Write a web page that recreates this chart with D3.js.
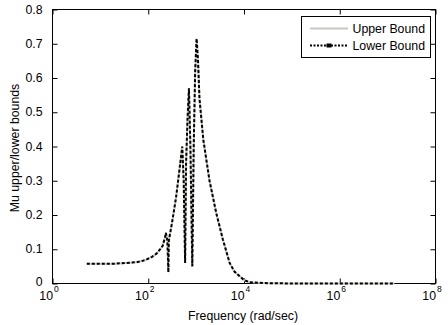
<!DOCTYPE html>
<html><head><meta charset="utf-8">
<script src="https://cdn.jsdelivr.net/npm/d3@7/dist/d3.min.js"></script>
<style>
body{margin:0;background:#fff;}
svg text{font-family:"Liberation Sans",Arial,sans-serif;}
</style></head>
<body><svg id="c" width="448" height="325"></svg>
<script>
const freq = [5.2,10,20,35,56,76,95,120,148,178,200,224,234,251,263,269,316,380,447,513,550,589,617,661,708,759,832,891,955,1023,1096,1175,1413,1905,2630,3630,5012,6310,8128,10000,12882,19953,31623,100000,1e6,1.38e7];
const lower = [0.058,0.058,0.058,0.060,0.062,0.066,0.071,0.078,0.087,0.100,0.110,0.135,0.148,0.125,0.033,0.125,0.180,0.250,0.330,0.400,0.300,0.060,0.350,0.480,0.570,0.400,0.050,0.400,0.620,0.715,0.650,0.540,0.420,0.300,0.206,0.128,0.060,0.035,0.021,0.010,0.004,0.002,0.001,0.0,0.0,0.0];
const upper = lower.slice();
const xTicks = [1,1e2,1e4,1e6,1e8];
const xTickExp = ["0","2","4","6","8"];
const yTicks = [0,0.1,0.2,0.3,0.4,0.5,0.6,0.7,0.8];
const seriesNames = ["Upper Bound","Lower Bound"];

const svg = d3.select("#c");
const L=52.5,R=435.5,T=9.5,B=283.5;
const x = d3.scaleLog().domain([1,1e8]).range([L,R]);
const y = d3.scaleLinear().domain([0,0.8]).range([B,T]);
const fs = 12.3;

svg.append("rect").attr("x",L).attr("y",T).attr("width",R-L).attr("height",B-T)
  .attr("fill","none").attr("stroke","#000").attr("stroke-width",1);

function styleAxis(g){ g.select(".domain").remove(); g.selectAll(".tick line").attr("stroke","#000"); }

const yl = svg.append("g").attr("transform",`translate(${L},0)`)
  .call(d3.axisLeft(y).tickValues(yTicks).tickSizeInner(-5).tickSizeOuter(0).tickPadding(10).tickFormat(d3.format("~g")));
styleAxis(yl);
yl.selectAll(".tick text").attr("font-size",fs).attr("fill","#000").attr("font-family","Liberation Sans, Arial, sans-serif")
  .attr("dy",d=>d===0?"0.18em":"0.3em");
const yr = svg.append("g").attr("transform",`translate(${R},0)`)
  .call(d3.axisRight(y).tickValues(yTicks).tickSizeInner(-5).tickSizeOuter(0).tickFormat(""));
styleAxis(yr);
const xb = svg.append("g").attr("transform",`translate(0,${B})`)
  .call(d3.axisBottom(x).tickValues(xTicks).tickSizeInner(-5).tickSizeOuter(0).tickFormat(""));
styleAxis(xb);
const xt = svg.append("g").attr("transform",`translate(0,${T})`)
  .call(d3.axisTop(x).tickValues(xTicks).tickSizeInner(-5).tickSizeOuter(0).tickFormat(""));
styleAxis(xt);
xTicks.forEach((t,i)=>{
  const g = svg.append("g");
  g.append("text").attr("x",x(t)+0.5).attr("y",299.5).attr("text-anchor","end")
    .attr("font-size",fs).text("10");
  g.append("text").attr("x",x(t)+1.5).attr("y",292).attr("font-size",8.5).text(xTickExp[i]);
});

svg.append("text").attr("x",243).attr("y",320).attr("text-anchor","middle").attr("font-size",fs)
  .text("Frequency (rad/sec)");
svg.append("text").attr("transform","translate(19,148) rotate(-90)").attr("text-anchor","middle")
  .attr("font-size",fs).text("Mu upper/lower bounds");

const line = d3.line().x((d,i)=>x(freq[i])).y(d=>y(d));
svg.append("path").datum(upper).attr("d",line).attr("fill","none")
  .attr("stroke","#c8c8c0").attr("stroke-width",2);
svg.append("path").datum(lower).attr("d",line).attr("fill","none")
  .attr("stroke","#000").attr("stroke-width",2).attr("stroke-dasharray","3,2");

const lg = svg.append("g");
lg.append("rect").attr("x",301.5).attr("y",16.5).attr("width",129).attr("height",41)
  .attr("fill","#fff").attr("stroke","#000");
lg.append("line").attr("x1",310).attr("x2",348).attr("y1",28.5).attr("y2",28.5)
  .attr("stroke","#c8c8c0").attr("stroke-width",2);
lg.append("text").attr("x",352.5).attr("y",33).attr("font-size",fs).text(seriesNames[0]);
lg.append("line").attr("x1",310).attr("x2",348).attr("y1",45.5).attr("y2",45.5)
  .attr("stroke","#000").attr("stroke-width",2).attr("stroke-dasharray","2,1.5");
lg.append("rect").attr("x",326.5).attr("y",43.5).attr("width",5).attr("height",4).attr("fill","#000");
lg.append("text").attr("x",352.5).attr("y",50).attr("font-size",fs).text(seriesNames[1]);
</script></body></html>
